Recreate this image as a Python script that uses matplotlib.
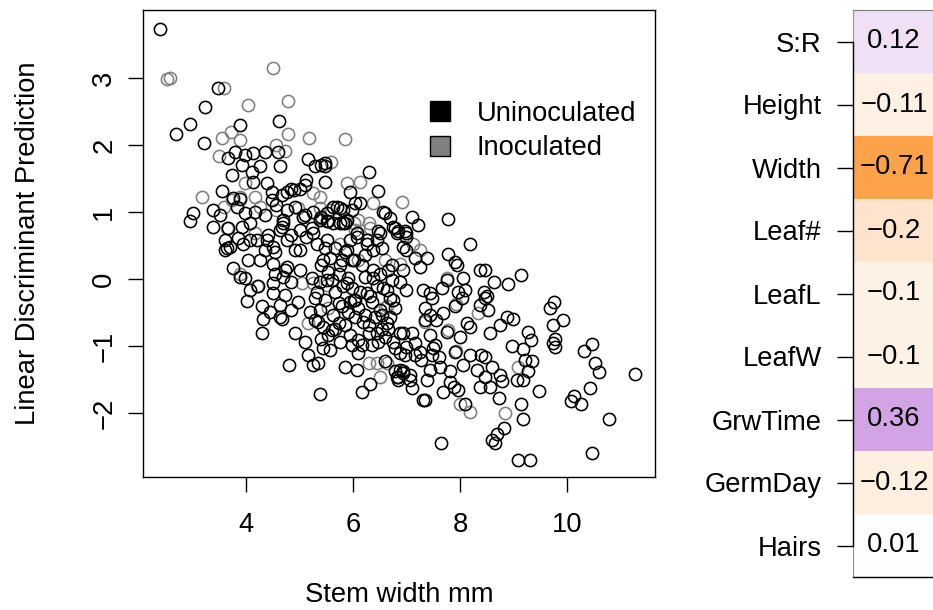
import matplotlib
matplotlib.use("Agg")
import matplotlib.pyplot as plt
import numpy as np
from matplotlib.colors import LinearSegmentedColormap
from matplotlib.lines import Line2D
from matplotlib.patches import Rectangle

plt.rcParams["font.family"] = ["Liberation Sans", "DejaVu Sans"]
FS = 19.7

# Uninoculated plants (black circles): stem width (mm), LD prediction
uninoc_x = [
    2.39, 3.48, 3.23, 2.95, 2.70, 3.89, 4.62, 3.22, 3.67, 3.79, 3.98, 4.14, 4.36, 4.60, 3.92, 4.11,
    4.26, 4.64, 3.73, 4.14, 4.39, 5.15, 5.13, 5.01, 4.85, 3.56, 3.76, 3.89, 4.48, 4.67, 3.01, 2.95,
    3.39, 3.51, 3.39, 3.67, 3.92, 3.83, 3.98, 4.17, 4.36, 4.57, 5.10, 4.67, 4.42, 3.61, 3.86, 4.85,
    5.23,
    5.41, 5.48, 6.29, 5.48, 5.94, 6.47, 6.13, 5.63, 5.76, 5.98, 6.57, 6.69, 7.10, 7.22, 7.77, 5.41,
    5.54, 5.85, 6.79, 6.97, 6.47, 8.19,
    9.14, 8.89, 8.64, 8.47, 8.50, 8.53, 9.76, 9.68, 9.92, 9.74, 9.78, 9.74, 9.78, 8.88, 9.00, 8.75,
    8.56, 9.28, 9.33, 8.98, 9.18, 9.21, 9.35, 9.28, 9.07, 9.18, 8.75, 8.78, 8.56, 9.48, 8.72, 9.14,
    9.18, 8.83, 8.69, 8.59, 8.65, 9.09, 9.31, 10.32, 10.46, 10.52, 10.59, 10.43, 10.14, 10.07, 10.27,
    10.79, 10.47, 11.28, 8.47, 8.59, 8.47,
    7.78, 7.91, 7.94, 7.38, 7.16, 7.25, 8.37, 8.06, 7.75, 8.09, 7.97, 8.44, 7.31, 7.44, 7.00, 8.47,
    8.03, 7.91, 8.37, 7.69, 7.44, 7.35, 7.56, 8.13, 8.19, 7.75, 8.00, 7.91, 8.19, 8.40, 8.06, 8.31,
    7.63, 7.81, 7.44, 7.38, 7.69, 7.97, 7.81, 7.35, 8.09, 8.37, 7.64, 6.88, 7.10, 7.00, 7.16, 7.07,
    6.94, 7.10, 7.60, 7.50, 7.25,
    5.38, 6.16, 6.32, 6.60, 5.85, 6.07, 6.10, 5.35, 6.85, 6.79, 6.85, 5.44, 5.57, 5.41, 5.60, 5.73,
    5.44, 5.94, 6.10, 6.29, 6.44, 6.60, 6.54, 6.63, 6.54, 6.69, 6.79, 6.88, 6.94, 6.35, 6.26, 6.44,
    6.38, 6.50, 6.72, 6.88, 6.94, 6.72, 6.16, 5.98, 5.85, 5.66, 5.48, 5.41, 5.54, 5.66, 5.82, 5.94,
    5.79, 5.38, 5.63, 6.04, 6.22, 6.04, 6.19, 6.66, 6.54, 7.00, 5.29, 5.29,
    4.01, 3.76, 3.98, 4.04, 4.26, 3.61, 4.29, 4.32, 4.29, 4.67, 4.51, 4.54, 4.73, 4.85, 4.92, 5.10,
    5.16, 4.80, 5.26, 5.01, 4.54, 4.73, 4.45, 4.64, 4.98, 5.20, 5.23, 4.85,
    3.64, 4.07, 4.36, 4.51, 4.64, 4.70, 4.76, 4.92, 5.01, 5.26, 5.38, 5.51, 5.70, 5.82, 5.94, 6.07,
    6.26, 6.38, 6.50, 6.60, 6.75, 6.82, 7.00, 4.76, 5.01, 5.44, 5.76, 6.01, 5.51, 5.88, 6.63, 6.75,
    6.50, 6.32, 6.01, 4.64, 4.07, 3.89, 4.23, 4.51, 4.70, 4.51, 6.82, 6.94, 7.07, 6.88, 7.31, 7.88,
    5.29, 5.48, 6.04, 7.00, 6.85, 6.94, 4.76, 4.89, 5.10, 5.82, 5.88, 6.44, 6.26, 6.07, 5.51, 5.63,
    5.76, 5.26, 5.07, 4.48, 4.76, 4.92, 4.70, 5.13, 5.32, 5.51, 5.88, 4.39, 4.20, 3.95, 3.70, 4.07,
    6.38, 6.22, 6.69, 6.79, 6.75, 7.16, 6.97, 7.28, 7.47, 7.53, 7.44, 7.35, 7.47, 7.66, 5.91, 5.73,
    5.60, 5.38, 5.32, 5.48, 5.35, 5.66, 5.85, 5.98, 5.76, 5.54, 6.16, 6.35, 6.47, 6.29, 6.41, 6.10,
    5.91, 5.73, 6.13, 5.98, 6.57, 6.66, 6.22, 5.79, 5.57,
]
uninoc_y = [
    3.73, 2.85, 2.57, 2.32, 2.17, 2.30, 2.36, 2.03, 1.80, 1.90, 1.85, 1.88, 1.90, 1.90, 1.70, 1.60,
    1.68, 1.68, 1.55, 1.45, 1.43, 1.79, 1.48, 1.35, 1.35, 1.32, 1.21, 1.20, 1.30, 1.25, 0.98, 0.86,
    1.03, 0.96, 0.78, 0.76, 0.78, 1.08, 0.98, 1.00, 0.96, 1.10, 0.96, 0.78, 0.66, 0.58, 0.61, 0.66,
    0.76,
    1.70, 1.68, 1.60, 1.45, 1.30, 1.31, 1.13, 1.08, 1.06, 1.03, 1.00, 0.91, 0.93, 0.81, 0.89, 0.93,
    0.86, 0.83, 0.76, 0.71, 0.71, 0.52,
    0.06, -0.07, -0.04, 0.13, -0.26, -0.46, -0.34, -0.44, -0.61, -0.69, -0.89, -0.96, -1.02, -0.56,
    -0.59, -0.69, -0.81, -0.79, -0.91, -1.00, -1.05, -1.21, -1.23, -1.38, -1.51, -1.51, -1.43, -1.52,
    -1.61, -1.67, -1.78, -1.86, -2.09, -2.23, -2.31, -2.40, -2.45, -2.70, -2.70, -1.07, -0.97, -1.25,
    -1.39, -1.62, -1.75, -1.82, -1.86, -2.09, -2.59, -1.42, -1.16, -1.31, -1.46,
    0.38, 0.26, 0.21, 0.31, 0.31, 0.18, 0.13, 0.01, -0.01, -0.16, -0.19, -0.19, -0.16, -0.21, -0.16,
    -0.29, -0.29, -0.41, -0.39, -0.51, -0.54, -0.61, -0.61, -0.66, -0.71, -0.79, -0.86, -1.09, -1.13,
    -1.13, -1.28, -1.36, -1.31, -1.38, -1.36, -1.51, -1.68, -1.66, -1.53, -1.80, -1.86, -1.61, -2.45,
    -0.81, -0.81, -1.01, -0.96, -1.43, -1.38, -1.63, -1.16, -1.03, -1.09,
    -1.71, -1.68, -1.56, -1.23, -1.31, -1.36, -1.11, -1.26, -1.46, -1.38, -1.51, -1.03, -1.06, -0.89,
    -0.76, -0.66, -0.71, -0.84, -0.91, -0.81, -0.81, -0.86, -0.74, -0.66, -0.54, -0.56, -1.03, -1.11,
    -0.81, -0.34, -0.21, -0.11, 0.01, 0.08, -0.01, -0.04, 0.13, 0.21, 0.21, 0.28, 0.41, 0.46, 0.46,
    0.21, 0.11, -0.19, -0.11, -0.34, -0.41, -0.46, -0.54, -0.56, -0.54, -0.31, -0.64, -0.74, 0.46,
    0.43, -0.29, -0.61,
    -0.33, 0.16, 0.01, 0.28, 0.28, 0.43, -0.41, -0.59, -0.81, -0.59, -0.21, 0.08, 0.13, -0.46, -0.81,
    -0.94, -1.13, -1.29, -1.28, 0.43, 0.41, -0.24, -0.49, -0.39, -0.34, -0.49, 0.01, -0.04,
    0.46, 0.58, 0.43, 0.48, 0.73, 0.88, 0.58, 0.43, 0.73, 0.68, 0.88, 0.98, 1.08, 0.83, 0.58, 0.68,
    0.53, 0.43, 0.68, 0.98, 0.78, 0.68, 0.68, 0.18, 0.13, 0.28, 0.21, 0.28, -0.01, -0.06, -0.16,
    -0.31, -0.46, -0.26, -0.31, -0.56, -0.16, 0.03, -0.11, -0.06, 0.03, 0.23, -1.46, -1.41, -1.51,
    -1.36, -1.81, -1.61,
    1.68, 1.73, 1.13, 0.63, 0.71, 0.48, 1.30, 1.33, 1.40, 1.03, 0.88, 0.58, 0.58, 0.63, 0.86, 0.83,
    0.83, 1.00, 0.93, 1.18, 1.03, 1.08, 0.83, 0.63, 0.53, 0.58, 0.43, 0.58, 0.58, 0.53, 0.48, 0.83,
    0.13, 0.03, -0.29, -0.44, -0.94, -1.13, -1.13, -1.21, -1.13, -0.99, -0.84, -0.44, -0.29, -0.14,
    0.01, 0.08, -0.01, -0.04, -0.19, -0.31, -0.64, -0.74, -0.69, -0.99, -0.94, -0.84, -0.99, -0.99,
    -0.94, -0.69, -0.56, -0.44, -0.49, -0.36, -0.19, -0.14, -0.14, 0.13, 0.36, 0.28, 0.31,
]

# Inoculated plants (grey circles)
inoc_x = [
    2.52, 2.58, 4.51, 3.59, 4.04, 4.78, 3.56, 3.72, 3.89, 4.78, 5.18, 3.50, 4.57, 4.73, 3.98, 3.17,
    4.17, 4.98,
    5.85, 5.59, 5.88, 6.13, 6.92, 6.38, 5.38, 6.10, 6.29, 6.04,
    9.09, 8.84,
    7.25, 7.93, 8.34, 7.78, 7.93, 8.19,
    6.50, 6.29, 6.44, 6.60, 6.88, 6.60, 6.10, 5.51, 5.54, 7.35, 7.75,
    3.89, 4.20, 5.16, 5.04,
    5.07, 6.63, 6.63, 8.00, 5.26,
    7.13, 5.26, 5.38, 5.57, 6.01, 6.32, 5.76, 3.64, 3.73, 3.58, 3.89, 4.17, 4.26, 4.57, 5.38,
]
inoc_y = [
    2.98, 3.00, 3.15, 2.85, 2.60, 2.66, 2.11, 2.20, 2.07, 2.16, 2.11, 1.83, 2.00, 1.91, 1.43, 1.23,
    0.68, 1.06,
    2.09, 1.75, 1.43, 1.45, 1.15, 1.14, 1.06, 0.88, 0.83, 0.73,
    -1.32, -2.00,
    0.43, -0.38, -0.51, -0.76, -1.08, -1.98,
    -1.46, -1.26, -1.26, -0.44, 0.23, 0.28, 0.28, -0.09, -0.44, -0.64, 0.01,
    0.08, -0.11, -0.66, -0.06,
    0.93, -0.41, -1.26, -1.86, -0.06,
    0.53, 1.28, 1.23, 1.03, 0.83, 0.76, 0.53, 0.76, 1.18, 1.08, 1.23, 1.23, 1.08, 1.03, 0.91,
]

# LD loadings shown in the side heatmap
traits = ["S:R", "Height", "Width", "Leaf#", "LeafL", "LeafW", "GrwTime", "GermDay", "Hairs"]
loadings = [0.12, -0.11, -0.71, -0.2, -0.1, -0.1, 0.36, -0.12, 0.01]

W, H = 933, 610
fig = plt.figure(figsize=(W / 100, H / 100), dpi=100)

# ---- scatter panel ----
ax = fig.add_axes([143 / W, 1 - 477 / H, (655 - 143) / W, (477 - 10) / H])
ax.plot(inoc_x, inoc_y, "o", ms=8.8, mfc="none", mec="#808080", mew=1.15, zorder=2)
ax.plot(uninoc_x, uninoc_y, "o", ms=8.8, mfc="none", mec="black", mew=1.15, zorder=3)
ax.set_xlim(2.075, 11.645)
ax.set_ylim(-2.955, 4.015)
ax.set_xticks([4, 6, 8, 10])
ax.set_yticks([-2, -1, 0, 1, 2, 3])
ax.set_yticklabels(["\u22122", "\u22121", "0", "1", "2", "3"], rotation=90, va="center")
ax.tick_params(direction="out", length=10.5, width=1.0, labelsize=FS, color="black")
ax.tick_params(axis="x", pad=15)
ax.tick_params(axis="y", pad=8)
for s in ax.spines.values():
    s.set_linewidth(1.0)

fig.text(399 / W, 1 - 595 / H, "Stem width mm", ha="center", va="center", fontsize=FS)
fig.text(28 / W, 1 - 243 / H, "Linear Discriminant Prediction", ha="center", va="center",
         rotation=90, fontsize=FS)

handles = [
    Line2D([], [], ls="none", marker="s", ms=15, mfc="black", mec="black", mew=1.0),
    Line2D([], [], ls="none", marker="s", ms=15, mfc="#808080", mec="black", mew=1.0),
]
ax.legend(handles, ["Uninoculated", "Inoculated"], loc="upper left",
          bbox_to_anchor=(426 / W, 1 - 101 / H), bbox_transform=fig.transFigure,
          frameon=False, fontsize=FS, borderpad=0, handlelength=1.0, handletextpad=0.85,
          labelspacing=0.3, borderaxespad=0)

# ---- loadings heatmap ----
cmap = LinearSegmentedColormap.from_list(
    "ld", [(0.0, "#fb7d00"), (0.5, "#ffffff"), (1.0, "#8808ba")])
ax2 = fig.add_axes([853 / W, 1 - 577 / H, 82 / W, (577 - 10) / H])
vals = np.array(loadings).reshape(-1, 1)
ax2.imshow(vals, cmap=cmap, vmin=-1, vmax=1, aspect="auto",
           extent=[0, 1, len(traits) - 0.5, -0.5])
for i, v in enumerate(loadings):
    txt = f"{v:g}".replace("-", "\u2212")
    ax2.text(0.5, i, txt, ha="center", va="center", fontsize=FS, clip_on=False)
ax2.set_xlim(0, 1)
ax2.set_ylim(len(traits) - 0.5, -0.5)
ax2.set_xticks([])
ax2.set_yticks(range(len(traits)))
ax2.set_yticklabels(traits)
ax2.tick_params(axis="y", direction="out", length=11.5, width=1.0, labelsize=FS, pad=11)
ax2.spines["right"].set_visible(False)
ax2.spines["top"].set_color("#808080")
ax2.spines["top"].set_linewidth(0.8)
ax2.spines["left"].set_bounds(0, len(traits) - 1)
ax2.spines["left"].set_linewidth(1.0)
ax2.spines["bottom"].set_linewidth(1.0)
ax2.add_patch(Rectangle((0, 0), 1, 1, transform=ax2.transAxes, fill=False,
                        ec="#909090", lw=0.8, zorder=0.5, clip_on=False))

fig.savefig("out.png", dpi=100)
